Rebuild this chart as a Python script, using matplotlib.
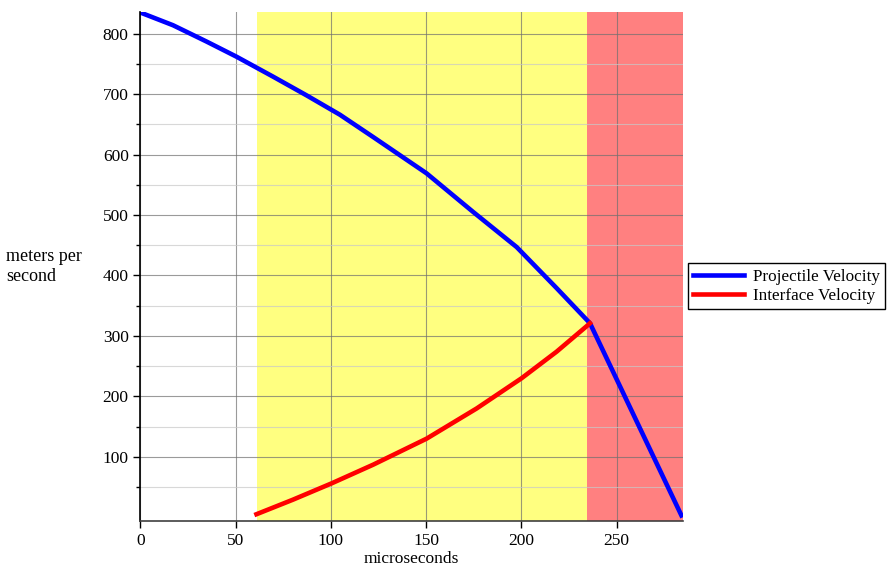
from matplotlib import pyplot as plt
import numpy as np

plt.rcParams['font.family'] = ['Liberation Serif', 'DejaVu Serif']

# projectile velocity [m/s] vs time [us]
t_proj = [0, 17.1, 34.7, 50.4, 69.6, 87.2, 104.7, 122.2, 150.2, 174.7, 197.5, 218.5, 236, 260, 284]
v_proj = [835, 814, 787, 762, 729, 698, 666, 629, 569, 505, 447, 379, 321, 162, 3]

# interface velocity
t_int = [60.9, 80, 100.3, 122.2, 150.2, 176.5, 200.1, 218.5, 234.2, 236]
v_int = [5, 29, 56, 87, 130, 180, 230, 274, 316, 321]

# phases (yellow / red bands)
yellow_band = (61.4, 234.2)
red_band = (234.2, 284.7)

fig = plt.figure(figsize=(8.89, 5.69), dpi=100)
ax = fig.add_axes([0.158, 0.085, 0.61, 0.894])

ax.axvspan(*yellow_band, color='#FFFF80', lw=0, zorder=0)
ax.axvspan(*red_band, color='#FF8080', lw=0, zorder=0)

l1, = ax.plot(t_proj, v_proj, color='#0000FF', lw=3.3, label='Projectile Velocity',
              solid_joinstyle='round')
l2, = ax.plot(t_int, v_int, color='#FF0000', lw=3.3, label='Interface Velocity',
              solid_joinstyle='round')

ax.set_xlim(0, 284.7)
ax.set_ylim(-5.6, 836)
ax.set_xticks([0, 50, 100, 150, 200, 250])
ax.set_yticks([100, 200, 300, 400, 500, 600, 700, 800])
ax.set_yticks(np.arange(50, 836, 100), minor=True)

ax.grid(which='major', color='#707070', alpha=0.7, lw=0.8)
ax.grid(which='minor', axis='y', color='#c8c8c8', alpha=0.7, lw=0.8)

for s in ['top', 'right']:
    ax.spines[s].set_visible(False)
ax.spines['left'].set_linewidth(1.2)
ax.spines['bottom'].set_linewidth(1.2)
ax.spines['bottom'].set_color('#404040')
ax.tick_params(which='major', length=5, width=1, labelsize=12.5)
ax.tick_params(axis='x', pad=4)
ax.tick_params(which='minor', length=3, width=1)

ax.set_xlabel('microseconds', fontsize=12.5, labelpad=1)
fig.text(0.007, 0.564, 'meters per\nsecond', fontsize=13, ha='left', va='top', linespacing=1.2)

leg = fig.legend(handles=[l1, l2], loc='upper left', bbox_to_anchor=(0.774, 0.537),
                 fancybox=False, edgecolor='black', framealpha=1, fontsize=12.3,
                 handlelength=3.0, borderpad=0.3, labelspacing=0.2, handletextpad=0.5,
                 borderaxespad=0)
leg.get_frame().set_linewidth(1)

fig.savefig('out.png', dpi=100)
